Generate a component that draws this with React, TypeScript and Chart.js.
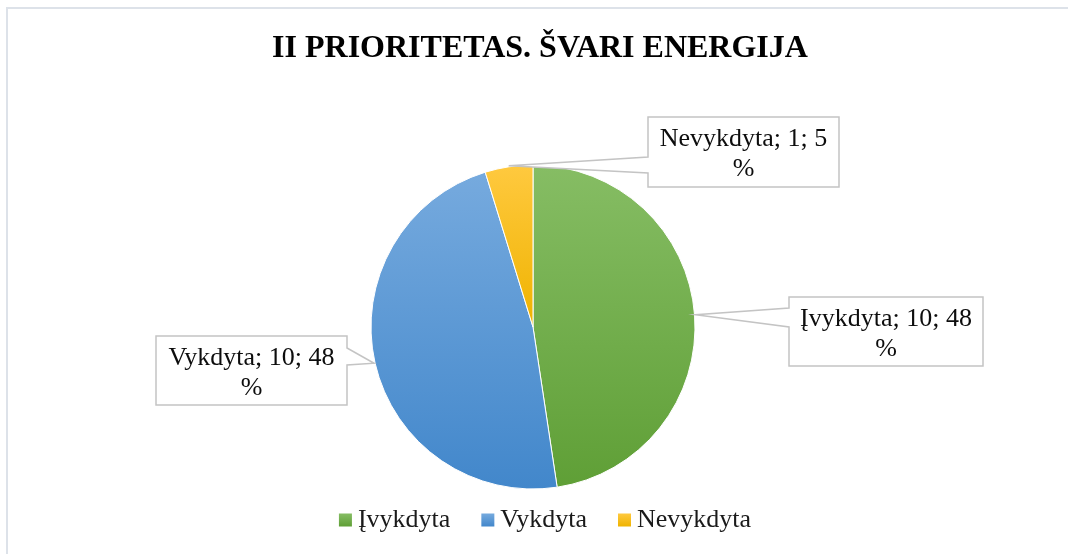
import React, { useEffect, useRef } from "react";
import { Chart, registerables } from "chart.js";

Chart.register(...registerables);

// ---- data ----
const TITLE = "II PRIORITETAS. ŠVARI ENERGIJA";
const categories = ["Įvykdyta", "Vykdyta", "Nevykdyta"];
const values = [10, 10, 1];

// ---- styles (kept separate from data) ----
const topColors = ["#86bd64", "#76aade", "#ffc93f"];
const bottomColors = ["#5f9f36", "#4287cb", "#efb300"];
const legendColors = ["#70ad47", "#5b9bd5", "#ffc000"];

const W = 1068;
const H = 554;
const RADIUS = 162;
const SERIF = "'Liberation Serif', 'Times New Roman', serif";

// callout boxes: [left, top, right, bottom], wedge base on box edge [y1, y2]
const calloutLayout = [
  { box: [789, 297, 983, 366], base: [308, 327] },
  { box: [156, 336, 347, 405], base: [348, 365] },
  { box: [648, 117, 839, 187], base: [157, 173] },
];

function sliceExtent(i: number, cy: number, r: number) {
  const total = values.reduce((a, b) => a + b, 0);
  let cum = 0;
  for (let k = 0; k < i; k++) cum += values[k];
  const start = -Math.PI / 2 + (2 * Math.PI * cum) / total;
  const end = start + (2 * Math.PI * values[i]) / total;
  const ys = [cy, cy + r * Math.sin(start), cy + r * Math.sin(end)];
  for (let k = -2; k <= 3; k++) {
    const a1 = Math.PI / 2 + 2 * Math.PI * k;
    const a2 = -Math.PI / 2 + 2 * Math.PI * k;
    if (a1 >= start && a1 <= end) ys.push(cy + r);
    if (a2 >= start && a2 <= end) ys.push(cy - r);
  }
  return [Math.min(...ys), Math.max(...ys)];
}

const overlayPlugin = {
  id: "overlay",
  beforeDraw(chart: any) {
    const ctx = chart.ctx;
    ctx.save();
    ctx.fillStyle = "#ffffff";
    ctx.fillRect(0, 0, W, H);
    // frame
    ctx.fillStyle = "#dde2e9";
    ctx.fillRect(6, 7, W - 6, 2);
    ctx.fillRect(6, 7, 2, H - 7);
    ctx.restore();
  },
  afterDraw(chart: any) {
    const ctx = chart.ctx;
    const meta = chart.getDatasetMeta(0);
    const total = values.reduce((a, b) => a + b, 0);
    ctx.save();

    // title
    ctx.fillStyle = "#000000";
    ctx.font = `bold 32px ${SERIF}`;
    ctx.textAlign = "center";
    ctx.textBaseline = "alphabetic";
    ctx.fillText(TITLE, 540, 57);

    // callouts
    meta.data.forEach((arc: any, i: number) => {
      const { x, y, startAngle, endAngle, outerRadius } = arc.getProps(
        ["x", "y", "startAngle", "endAngle", "outerRadius"],
        true
      );
      const mid = (startAngle + endAngle) / 2;
      const ax = x + Math.cos(mid) * (outerRadius + 1);
      const ay = y + Math.sin(mid) * (outerRadius + 1);
      const lay = calloutLayout[i];
      const [L, T, R, B] = lay.box;
      const [y1, y2] = lay.base;
      ctx.beginPath();
      if (ax < L) {
        ctx.moveTo(L, T);
        ctx.lineTo(R, T);
        ctx.lineTo(R, B);
        ctx.lineTo(L, B);
        ctx.lineTo(L, y2);
        ctx.lineTo(ax, ay);
        ctx.lineTo(L, y1);
        ctx.closePath();
      } else {
        ctx.moveTo(L, T);
        ctx.lineTo(R, T);
        ctx.lineTo(R, y1);
        ctx.lineTo(ax, ay);
        ctx.lineTo(R, y2);
        ctx.lineTo(R, B);
        ctx.lineTo(L, B);
        ctx.closePath();
      }
      ctx.fillStyle = "#ffffff";
      ctx.fill();
      ctx.strokeStyle = "#c4c4c4";
      ctx.lineWidth = 1.5;
      ctx.lineJoin = "miter";
      ctx.stroke();

      const pct = Math.round((values[i] / total) * 100);
      const line1 = `${categories[i]}; ${values[i]}; ${pct}`;
      const line2 = "%";
      ctx.fillStyle = "#0d0d0d";
      ctx.font = `26px ${SERIF}`;
      ctx.textAlign = "center";
      ctx.textBaseline = "alphabetic";
      const cxBox = (L + R) / 2;
      const cyBox = (T + B) / 2;
      ctx.fillText(line1, cxBox, cyBox - 6);
      ctx.fillText(line2, cxBox, cyBox + 24);
    });

    // legend
    ctx.font = `26px ${SERIF}`;
    const box = 13;
    const gapText = 6;
    const gapItem = 31;
    const widths = categories.map((c) => ctx.measureText(c).width);
    const totalW =
      widths.reduce((a, w) => a + box + gapText + w, 0) +
      gapItem * (categories.length - 1);
    let lx = 545 - totalW / 2;
    const ly = 520;
    categories.forEach((c, i) => {
      const g = ctx.createLinearGradient(0, ly - box / 2, 0, ly + box / 2);
      g.addColorStop(0, topColors[i]);
      g.addColorStop(1, bottomColors[i]);
      ctx.fillStyle = g;
      ctx.fillRect(lx, ly - box / 2, box, box);
      lx += box + gapText;
      ctx.fillStyle = "#1a1a1a";
      ctx.textAlign = "left";
      ctx.textBaseline = "alphabetic";
      ctx.fillText(c, lx, ly + 7);
      lx += widths[i] + gapItem;
    });

    ctx.restore();
  },
};

export default function App() {
  const ref = useRef<HTMLCanvasElement | null>(null);

  useEffect(() => {
    document.body.style.margin = "0";
    const canvas = ref.current;
    if (!canvas) return;
    const chart = new Chart(canvas, {
      type: "pie",
      data: {
        labels: categories,
        datasets: [
          {
            data: values,
            radius: RADIUS,
            borderColor: "#ffffff",
            borderWidth: 1,
            hoverOffset: 0,
            backgroundColor: (c: any) => {
              const ch = c.chart;
              const area = ch.chartArea;
              const i = c.dataIndex;
              if (!area || i === undefined) return legendColors[i ?? 0];
              const cy = (area.top + area.bottom) / 2;
              const [y0, y1] = sliceExtent(i, cy, RADIUS);
              const g = ch.ctx.createLinearGradient(0, y0, 0, y1);
              g.addColorStop(0, topColors[i]);
              g.addColorStop(1, bottomColors[i]);
              return g;
            },
          } as any,
        ],
      },
      options: {
        responsive: false,
        animation: false,
        devicePixelRatio: 1,
        layout: { padding: { top: 165, bottom: 65, left: 0, right: 2 } },
        plugins: {
          legend: { display: false },
          title: { display: false },
          tooltip: { enabled: false },
        },
        events: [],
      },
      plugins: [overlayPlugin],
    });
    return () => chart.destroy();
  }, []);

  return (
    <div style={{ width: W, height: H }}>
      <canvas ref={ref} width={W} height={H} style={{ display: "block" }} />
    </div>
  );
}
